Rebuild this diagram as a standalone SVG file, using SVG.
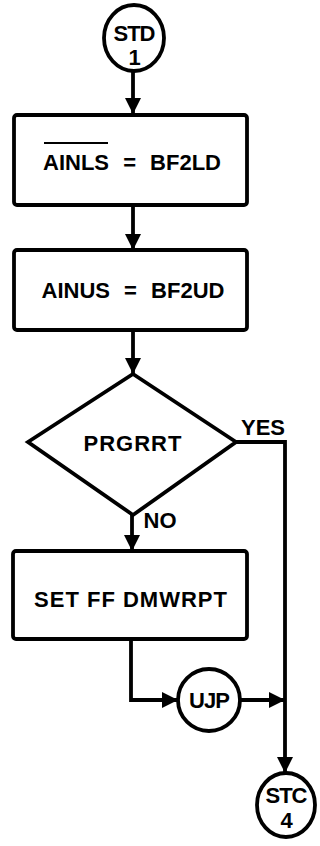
<svg xmlns="http://www.w3.org/2000/svg" width="320" height="846" viewBox="0 0 320 846">
  <style>
    .shape { fill: #ffffff; stroke: #000000; stroke-width: 3.8; }
    .wire { fill: none; stroke: #000000; stroke-width: 3.8; }
    .label { font-family: "Liberation Sans", Arial, sans-serif; font-weight: bold; font-size: 22px; fill: #000000; text-anchor: middle; }
    .tag { font-size: 22px; letter-spacing: -1px; }
  </style>
  <defs>
    <marker id="arrow" markerWidth="16" markerHeight="18" refX="16" refY="9" orient="auto" markerUnits="userSpaceOnUse">
      <path d="M0,1 L16,9 L0,17 Z" fill="#000000"/>
    </marker>
  </defs>

  <rect width="320" height="846" fill="#ffffff"/>

  <!-- connectors -->
  <g id="connectors">
    <line class="wire" x1="133" y1="72" x2="133" y2="114" marker-end="url(#arrow)"/>
    <line class="wire" x1="133" y1="205" x2="133" y2="250" marker-end="url(#arrow)"/>
    <line class="wire" x1="133" y1="330" x2="133" y2="374" marker-end="url(#arrow)"/>
    <line class="wire" x1="132" y1="515" x2="132" y2="551" marker-end="url(#arrow)"/>
    <polyline class="wire" points="236,442 285,442 285,773" marker-end="url(#arrow)"/>
    <polyline class="wire" points="131,639 131,700 178,700" marker-end="url(#arrow)"/>
    <line class="wire" x1="240" y1="700" x2="285" y2="700" marker-end="url(#arrow)"/>
  </g>

  <!-- start connector STD 1 -->
  <g id="std1">
    <ellipse class="shape" cx="134" cy="38" rx="30" ry="33"/>
    <text class="label tag" x="134" y="41">STD</text>
    <text class="label tag" x="134" y="65">1</text>
  </g>

  <!-- AINLS (inverted) = BF2LD -->
  <g id="ainls">
    <rect class="shape" x="14" y="115" width="233" height="90" rx="3"/>
    <text class="label" x="132" y="170" word-spacing="8">AINLS = BF2LD</text>
    <line x1="44" y1="143" x2="108" y2="143" stroke="#000000" stroke-width="2"/>
  </g>

  <!-- AINUS = BF2UD -->
  <g id="ainus">
    <rect class="shape" x="14" y="250" width="233" height="80" rx="3"/>
    <text class="label" x="133" y="298" word-spacing="8">AINUS = BF2UD</text>
  </g>

  <!-- decision PRGRRT -->
  <g id="prgrrt">
    <polygon class="shape" points="133,374 236,442 133,515 28,442"/>
    <text class="label" x="133" y="451" letter-spacing="1">PRGRRT</text>
    <text class="label" x="263" y="435" font-size="20">YES</text>
    <text class="label" x="160" y="528" font-size="20">NO</text>
  </g>

  <!-- SET FF DMWRPT -->
  <g id="setff">
    <rect class="shape" x="13" y="551" width="234" height="88" rx="3"/>
    <text class="label" x="131" y="607" font-size="21" letter-spacing="1">SET FF DMWRPT</text>
  </g>

  <!-- unconditional jump -->
  <g id="ujp">
    <circle class="shape" cx="209" cy="700" r="31"/>
    <text class="label tag" x="209" y="708">UJP</text>
  </g>

  <!-- exit connector STC 4 -->
  <g id="stc4">
    <ellipse class="shape" cx="286" cy="805" rx="29" ry="32"/>
    <text class="label tag" x="286" y="803">STC</text>
    <text class="label tag" x="286" y="828">4</text>
  </g>
</svg>
